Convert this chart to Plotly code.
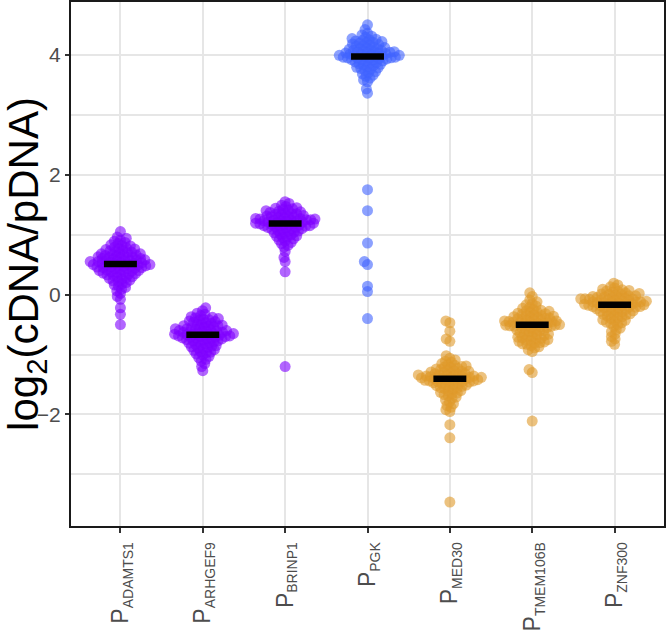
import math
import numpy as np
import plotly.graph_objects as go

categories = ["ADAMTS1", "ARHGEF9", "BRINP1", "PGK", "MED30", "TMEM106B", "ZNF300"]

adamts1 = [1.05, 0.96, 0.94, 0.91, 0.89, 0.87, 0.85, 0.83, 0.82, 0.81, 0.79, 0.78,
           0.77, 0.76, 0.75, 0.74, 0.73, 0.72, 0.71, 0.70, 0.69, 0.68, 0.68,
           0.67, 0.66, 0.66, 0.65, 0.64, 0.63, 0.63, 0.62, 0.62, 0.61, 0.60, 0.60, 0.59, 0.58, 0.58,
           0.57, 0.57, 0.56, 0.56, 0.55, 0.55, 0.54, 0.53, 0.53,
           0.52, 0.52, 0.51, 0.51, 0.50, 0.50, 0.49, 0.49, 0.48, 0.48,
           0.47, 0.47, 0.46, 0.46, 0.45, 0.45, 0.44, 0.43, 0.43,
           0.42, 0.41, 0.40, 0.40, 0.39, 0.38, 0.38, 0.37, 0.36, 0.35, 0.34, 0.33, 0.33,
           0.32, 0.30, 0.29, 0.28, 0.27, 0.26, 0.24, 0.23, 0.22, 0.20, 0.18, 0.16,
           0.14, 0.12, 0.09, 0.06, 0.02, -0.03, -0.08, -0.22, -0.33, -0.50]

arhgef9 = [-0.22, -0.27, -0.31, -0.33, -0.35, -0.37, -0.38, -0.39, -0.40, -0.41,
           -0.42, -0.43, -0.44, -0.45, -0.46, -0.47, -0.48, -0.49, -0.50, -0.51, -0.52, -0.52, -0.53,
           -0.54, -0.55, -0.55, -0.56, -0.57, -0.57, -0.58, -0.59,
           -0.60, -0.60, -0.61, -0.61, -0.62, -0.62, -0.63, -0.63, -0.64,
           -0.65, -0.65, -0.66, -0.66, -0.67, -0.67, -0.68, -0.68, -0.69, -0.69,
           -0.70, -0.70, -0.71, -0.71, -0.72, -0.72, -0.73, -0.74, -0.74,
           -0.75, -0.76, -0.77, -0.77, -0.78, -0.79, -0.80, -0.81,
           -0.82, -0.83, -0.84, -0.85, -0.86, -0.87, -0.88,
           -0.89, -0.90, -0.92, -0.93, -0.95, -0.96, -0.97, -0.99, -1.01, -1.03,
           -1.05, -1.08, -1.11, -1.15, -1.20, -1.27]

brinp1 = [1.55, 1.52, 1.49, 1.47, 1.45, 1.44, 1.43, 1.42, 1.41, 1.40,
          1.39, 1.38, 1.37, 1.36, 1.35, 1.35, 1.34, 1.33, 1.32, 1.31, 1.30, 1.30, 1.29,
          1.28, 1.28, 1.27, 1.27, 1.26, 1.26, 1.25, 1.25,
          1.24, 1.24, 1.23, 1.23, 1.22, 1.22, 1.21, 1.21, 1.20,
          1.19, 1.19, 1.18, 1.18, 1.17, 1.17, 1.16, 1.16, 1.15, 1.15,
          1.14, 1.14, 1.13, 1.12, 1.12, 1.11, 1.10, 1.10,
          1.09, 1.08, 1.07, 1.06, 1.05, 1.04, 1.03,
          1.02, 1.01, 0.99, 0.98, 0.97, 0.96, 0.95, 0.93, 0.91, 0.89, 0.87,
          0.85, 0.82, 0.79, 0.72, 0.62, 0.55, 0.38, -1.20]

pgk = [4.50, 4.42, 4.36, 4.33, 4.31, 4.29, 4.27, 4.26, 4.25,
       4.24, 4.23, 4.22, 4.21, 4.20, 4.19, 4.18, 4.17, 4.16, 4.15, 4.14, 4.13, 4.12,
       4.11, 4.10, 4.10, 4.09, 4.08, 4.07, 4.07, 4.06,
       4.05, 4.05, 4.04, 4.04, 4.03, 4.03, 4.02, 4.02, 4.01,
       4.00, 4.00, 3.99, 3.99, 3.98, 3.98, 3.97, 3.97, 3.96, 3.96,
       3.95, 3.95, 3.94, 3.94, 3.93, 3.93, 3.92, 3.92, 3.91,
       3.90, 3.89, 3.88, 3.87, 3.86, 3.85, 3.84, 3.83,
       3.82, 3.80, 3.79, 3.78, 3.77, 3.76, 3.74, 3.72, 3.70, 3.68, 3.66,
       3.64, 3.61, 3.58, 3.55, 3.43, 3.36,
       1.75, 1.40, 0.86, 0.55, 0.50, 0.14, 0.05, -0.40]

med30 = [-0.44, -0.47, -0.61, -0.74, -0.78, -1.02, -1.06, -1.09, -1.11, -1.13,
         -1.15, -1.17, -1.18, -1.19, -1.20, -1.21, -1.22, -1.23, -1.24, -1.25,
         -1.26, -1.27, -1.28, -1.28, -1.29, -1.30, -1.31,
         -1.32, -1.32, -1.33, -1.34, -1.34, -1.35, -1.35, -1.36, -1.36,
         -1.37, -1.37, -1.38, -1.38, -1.39, -1.39, -1.40, -1.40, -1.41, -1.41, -1.42,
         -1.42, -1.43, -1.43, -1.44, -1.44, -1.45, -1.45, -1.46, -1.46, -1.47,
         -1.48, -1.49, -1.50, -1.50, -1.51, -1.52, -1.53, -1.54,
         -1.55, -1.56, -1.57, -1.58, -1.60, -1.61, -1.63, -1.64, -1.65, -1.67, -1.69,
         -1.71, -1.73, -1.76, -1.79, -1.82, -1.85, -1.88, -1.92, -1.95,
         -2.17, -2.39, -3.46]

tmem106b = [0.03, -0.03, -0.09, -0.12, -0.15, -0.17, -0.19, -0.21, -0.23,
            -0.25, -0.26, -0.27, -0.28, -0.29, -0.30, -0.31, -0.32, -0.33, -0.34, -0.35, -0.35, -0.36,
            -0.37, -0.38, -0.38, -0.39, -0.40, -0.40, -0.41, -0.42,
            -0.43, -0.43, -0.44, -0.44, -0.45, -0.45, -0.46, -0.46, -0.47,
            -0.48, -0.48, -0.49, -0.49, -0.50, -0.50, -0.51, -0.51, -0.52, -0.52,
            -0.53, -0.53, -0.54, -0.55, -0.55, -0.56, -0.57, -0.58,
            -0.59, -0.60, -0.61, -0.62, -0.63, -0.64, -0.65,
            -0.66, -0.67, -0.68, -0.69, -0.70, -0.71, -0.72, -0.73, -0.74, -0.75, -0.76, -0.77,
            -0.78, -0.79, -0.80, -0.81, -0.82, -0.83, -0.85, -0.87, -0.89, -0.92, -0.95,
            -1.25, -1.30, -2.11]

znf300 = [0.19, 0.16, 0.13, 0.11, 0.09, 0.08, 0.07, 0.06, 0.05, 0.04, 0.03, 0.02,
          0.01, 0.00, 0.00, -0.01, -0.02, -0.02,
          -0.03, -0.04, -0.05, -0.05, -0.06, -0.06, -0.07, -0.07, -0.08, -0.08,
          -0.09, -0.09, -0.10, -0.10, -0.11, -0.11, -0.12, -0.12, -0.13, -0.13,
          -0.14, -0.14, -0.15, -0.15, -0.16, -0.16, -0.17, -0.17, -0.18,
          -0.18, -0.19, -0.19, -0.20, -0.20, -0.21, -0.21, -0.22, -0.22, -0.23, -0.24,
          -0.25, -0.26, -0.27, -0.28, -0.28, -0.29, -0.30, -0.31,
          -0.32, -0.33, -0.34, -0.35, -0.36, -0.37, -0.39,
          -0.40, -0.42, -0.43, -0.44, -0.46, -0.47, -0.48,
          -0.50, -0.53, -0.56, -0.59, -0.62, -0.66, -0.70, -0.74, -0.78, -0.83]

series = [adamts1, arhgef9, brinp1, pgk, med30, tmem106b, znf300]
colors = ["#7F00FF", "#7F00FF", "#7F00FF", "#4062FF", "#DF9A2A", "#DF9A2A", "#DF9A2A"]

# ---- layout geometry ----
W, H = 666, 633
ML, MR, MT, MB = 71, 2, 2, 107
XR = [0.4, 7.6]
YR = [-3.86, 4.88]
px_x = (W - ML - MR) / (XR[1] - XR[0])
px_y = (H - MT - MB) / (YR[1] - YR[0])
D = 4.35  # collision distance (px) for swarm layout


def swarm_offsets(vals):
    ys = [v * px_y for v in vals]
    order = sorted(range(len(vals)), key=lambda i: ys[i])
    placed = []
    xs = [0.0] * len(vals)
    for i in order:
        y = ys[i]
        near = [(px, py) for px, py in placed if abs(py - y) < D]
        cands = [0.0]
        for px, py in near:
            dx = math.sqrt(D * D - (py - y) ** 2)
            cands += [px - dx, px + dx]
        cands.sort(key=lambda c: (round(abs(c), 6), c))
        for c in cands:
            if all((c - px) ** 2 + (y - py) ** 2 >= D * D - 1e-6 for px, py in near):
                xs[i] = c
                break
        placed.append((xs[i], y))
    return [x / px_x for x in xs]


fig = go.Figure()
for k, (vals, col) in enumerate(zip(series, colors)):
    offs = swarm_offsets(vals)
    fig.add_trace(go.Scatter(
        x=[k + 1 + o for o in offs], y=vals, mode="markers",
        marker=dict(size=11, color=col, opacity=0.6, line=dict(width=0)),
        hoverinfo="skip", showlegend=False))

for k, vals in enumerate(series):
    m = float(np.median(vals))
    fig.add_trace(go.Scatter(
        x=[k + 1 - 0.2, k + 1 + 0.2], y=[m, m], mode="lines",
        line=dict(color="black", width=6.5), hoverinfo="skip", showlegend=False))

ticktext = ["P<sub><span style='font-size:14px'>%s</span></sub>" % c for c in categories]

fig.update_layout(
    width=W, height=H,
    margin=dict(l=ML, r=MR, t=MT, b=MB, autoexpand=False),
    plot_bgcolor="white", paper_bgcolor="white",
    font=dict(family="Liberation Sans, Arial, sans-serif"),
    showlegend=False,
)
fig.update_xaxes(
    range=XR, tickmode="array", tickvals=list(range(1, 8)), ticktext=ticktext,
    tickangle=-90, tickfont=dict(size=23, color="#4D4D4D"),
    showgrid=True, gridcolor="#E6E6E6", gridwidth=2,
    showline=True, linecolor="#1A1A1A", linewidth=2, mirror=True,
    ticks="outside", ticklen=5, tickwidth=2, tickcolor="#333333",
    zeroline=False, automargin=False,
)
fig.update_yaxes(
    range=YR, tick0=0, dtick=2, tickfont=dict(size=21, color="#4D4D4D"),
    showgrid=True, gridcolor="#E6E6E6", gridwidth=2,
    minor=dict(tick0=1, dtick=2, showgrid=True, gridcolor="#E6E6E6", gridwidth=2, ticks=""),
    showline=True, linecolor="#1A1A1A", linewidth=2, mirror=True,
    ticks="outside", ticklen=4, tickwidth=2, tickcolor="#333333",
    zeroline=False, automargin=False,
    title=dict(text="log<sub>2</sub>(cDNA/pDNA)", font=dict(size=42, color="black"), standoff=2),
)

fig.write_html("out.html", config={"displayModeBar": False},
               post_script="document.body.style.margin='0px';")
